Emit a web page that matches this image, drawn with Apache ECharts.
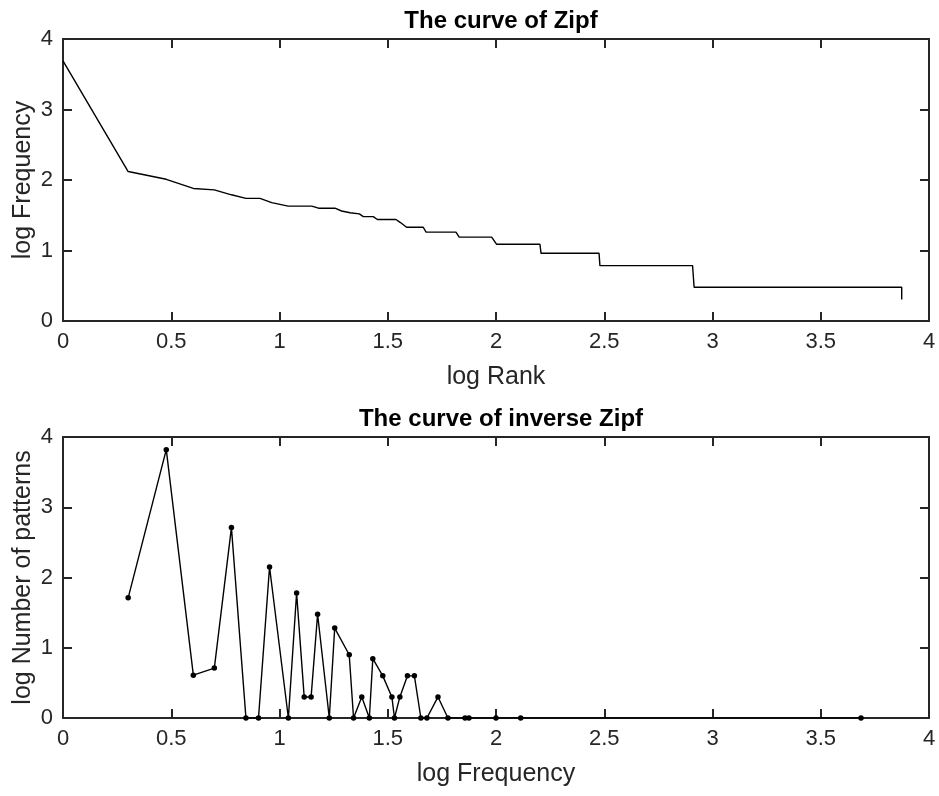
<!DOCTYPE html>
<html>
<head>
<meta charset="utf-8">
<title>Zipf curves</title>
<script src="https://cdn.jsdelivr.net/npm/echarts@6/dist/echarts.min.js"></script>
<style>
  html, body { margin: 0; padding: 0; background: #fff; }
  #chart { width: 939px; height: 796px; }
</style>
</head>
<body>
<div id="chart"></div>
<script>
// top panel: log rank vs log frequency (breakpoints of the curve)
const zipfRank = [0, 0.301, 0.477, 0.602, 0.699, 0.778, 0.845, 0.91, 0.964, 1.04, 1.149, 1.18, 1.256,
    1.287, 1.326, 1.369, 1.387, 1.433, 1.452, 1.538, 1.557, 1.587, 1.664, 1.677, 1.815, 1.83, 1.98,
    2.003, 2.203, 2.208, 2.476, 2.48, 2.908, 2.915, 3.874, 3.874];
const zipfFreq = [3.69, 2.12, 2.01, 1.88, 1.86, 1.79, 1.74, 1.74, 1.68, 1.63, 1.63, 1.60, 1.60,
    1.56, 1.536, 1.52, 1.48, 1.48, 1.44, 1.44, 1.40, 1.33, 1.33, 1.26, 1.26, 1.19, 1.19,
    1.088, 1.088, 0.96, 0.96, 0.785, 0.785, 0.478, 0.478, 0.305];

// bottom panel: log frequency vs log number of patterns
const invFreq = [0.301, 0.477, 0.602, 0.699, 0.778, 0.845, 0.903, 0.954, 1.041, 1.079, 1.114, 1.146,
    1.176, 1.230, 1.255, 1.322, 1.342, 1.380, 1.415, 1.431, 1.477, 1.519, 1.531, 1.556, 1.591, 1.623,
    1.653, 1.681, 1.732, 1.778, 1.857, 1.875, 2.0, 2.114, 3.686];
const invCount = [1.71, 3.82, 0.61, 0.71, 2.71, 0, 0, 2.15, 0, 1.78, 0.30, 0.30,
    1.477, 0, 1.28, 0.90, 0, 0.30, 0, 0.845, 0.60, 0.30, 0, 0.30, 0.60, 0.60,
    0, 0, 0.30, 0, 0, 0, 0, 0, 0];

const xTicks = { min: 0, max: 4, interval: 0.5 };
const axisColor = '#262626';
const fontFam = 'Liberation Sans, Arial, sans-serif';

const zip = (a, b) => a.map((v, i) => [v, b[i]]);

const mainAxis = (extra) => Object.assign({
    type: 'value',
    nameMoveOverlap: false,
    axisLine: { show: true, onZero: false, lineStyle: { color: axisColor, width: 2 } },
    axisTick: { show: true, inside: true, length: 9, lineStyle: { color: axisColor, width: 2 } },
    axisLabel: { color: axisColor, fontSize: 22, fontFamily: fontFam, margin: 10 },
    splitLine: { show: false },
    nameTextStyle: { color: axisColor, fontSize: 25, fontFamily: fontFam }
}, extra);

const mirrorAxis = (extra) => Object.assign(mainAxis({}), {
    axisLabel: { show: false }
}, extra);

const chart = echarts.init(document.getElementById('chart'));

const titleStyle = { fontSize: 24, fontWeight: 'bold', color: '#000', fontFamily: fontFam };

const option = {
    animation: false,
    backgroundColor: '#fff',
    title: [
        { text: 'The curve of Zipf', left: 496, top: 4, textAlign: 'center', textStyle: titleStyle },
        { text: 'The curve of inverse Zipf', left: 496, top: 402, textAlign: 'center', textStyle: titleStyle }
    ],
    grid: [
        { left: 63, right: 10, top: 39, height: 282, outerBoundsMode: 'none' },
        { left: 63, right: 10, top: 437, height: 281, outerBoundsMode: 'none' }
    ],
    xAxis: [
        mainAxis(Object.assign({ gridIndex: 0, position: 'bottom', name: 'log Rank',
            nameLocation: 'middle', nameGap: 44 }, xTicks)),
        mirrorAxis(Object.assign({ gridIndex: 0, position: 'top' }, xTicks)),
        mainAxis(Object.assign({ gridIndex: 1, position: 'bottom', name: 'log Frequency',
            nameLocation: 'middle', nameGap: 44 }, xTicks)),
        mirrorAxis(Object.assign({ gridIndex: 1, position: 'top' }, xTicks))
    ],
    yAxis: [
        mainAxis({ gridIndex: 0, position: 'left', min: 0, max: 4, interval: 1,
            name: 'log Frequency', nameLocation: 'middle', nameGap: 27 }),
        mirrorAxis({ gridIndex: 0, position: 'right', min: 0, max: 4, interval: 1 }),
        mainAxis({ gridIndex: 1, position: 'left', min: 0, max: 4, interval: 1,
            name: 'log Number of patterns', nameLocation: 'middle', nameGap: 27 }),
        mirrorAxis({ gridIndex: 1, position: 'right', min: 0, max: 4, interval: 1 })
    ],
    series: [
        {
            type: 'line',
            xAxisIndex: 0, yAxisIndex: 0,
            data: zip(zipfRank, zipfFreq),
            showSymbol: false,
            lineStyle: { color: '#000', width: 1.4 },
            z: 1
        },
        {
            type: 'line',
            xAxisIndex: 2, yAxisIndex: 2,
            data: zip(invFreq, invCount),
            symbol: 'circle',
            symbolSize: 5.5,
            itemStyle: { color: '#000' },
            lineStyle: { color: '#000', width: 1.4 },
            z: 1
        }
    ]
};

chart.setOption(option);
</script>
</body>
</html>
